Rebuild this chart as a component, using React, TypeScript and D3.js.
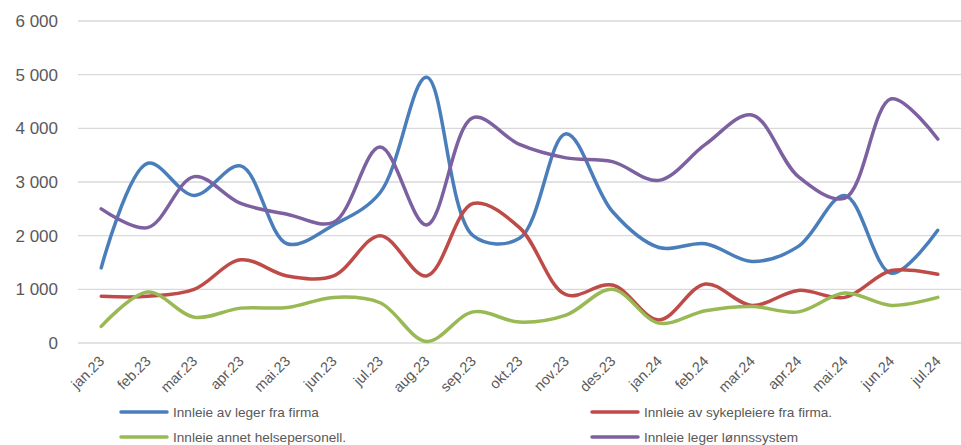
import React from 'react';
import * as d3 from 'd3';

const months = ['jan.23', 'feb.23', 'mar.23', 'apr.23', 'mai.23', 'jun.23', 'jul.23', 'aug.23', 'sep.23', 'okt.23',
    'nov.23', 'des.23', 'jan.24', 'feb.24', 'mar.24', 'apr.24', 'mai.24', 'jun.24', 'jul.24'];

const legerFirma = [1400, 3350, 2750, 3300, 1850, 2200, 2800, 4950, 2000, 1950, 3900, 2450, 1780, 1850, 1520, 1800, 2750, 1300, 2100];
const sykepleiereFirma = [870, 870, 1000, 1550, 1250, 1250, 2000, 1250, 2600, 2150, 900, 1080, 430, 1100, 700, 980, 850, 1350, 1280];
const annetHelse = [310, 950, 480, 650, 660, 850, 750, 30, 580, 390, 520, 1000, 370, 600, 680, 580, 930, 700, 850];
const legerLonn = [2500, 2150, 3100, 2600, 2400, 2250, 3650, 2200, 4200, 3700, 3450, 3380, 3030, 3700, 4250, 3100, 2700, 4550, 3800];

const yTicks = [0, 1000, 2000, 3000, 4000, 5000, 6000];

const series = [
    { name: 'Innleie av leger fra firma', values: legerFirma, color: '#4a7ebb' },
    { name: 'Innleie av sykepleiere fra firma.', values: sykepleiereFirma, color: '#be4b48' },
    { name: 'Innleie annet helsepersonell.', values: annetHelse, color: '#98b954' },
    { name: 'Innleie leger lønnssystem', values: legerLonn, color: '#7d60a0' },
];

// legend is two columns, filled row by row
const legendOrder = [0, 1, 2, 3];

export default function App() {
    const ref = React.useRef<SVGSVGElement>(null);

    React.useEffect(() => {
        const width = 961, height = 445;
        const marginLeft = 78, marginRight = 0, marginTop = 21, marginBottom = 102;
        const svg = d3.select(ref.current);
        svg.selectAll('*').remove();

        const x = d3.scaleBand().domain(months).range([marginLeft, width - marginRight]);
        const y = d3.scaleLinear().domain([0, 6000]).range([height - marginBottom, marginTop]);
        const cx = (m: string) => (x(m) as number) + x.bandwidth() / 2;

        const font = "'Liberation Sans', Arial, sans-serif";

        // grid
        svg.append('g')
            .selectAll('line')
            .data(yTicks)
            .join('line')
            .attr('x1', marginLeft)
            .attr('x2', width - marginRight)
            .attr('y1', d => y(d))
            .attr('y2', d => y(d))
            .attr('stroke', '#d9d9d9')
            .attr('stroke-width', 1.3);

        // y labels
        svg.append('g')
            .attr('font-family', font)
            .attr('font-size', 17)
            .attr('fill', '#595959')
            .attr('text-anchor', 'end')
            .selectAll('text')
            .data(yTicks)
            .join('text')
            .attr('x', 58)
            .attr('y', d => y(d))
            .attr('dy', '0.35em')
            .text(d => d3.format(',')(d).replace(/,/g, ' '));

        // x labels
        svg.append('g')
            .attr('font-family', font)
            .attr('font-size', 14.5)
            .attr('fill', '#595959')
            .attr('text-anchor', 'end')
            .selectAll('text')
            .data(months)
            .join('text')
            .attr('transform', d => `translate(${cx(d) + 4},${y(0) + 19}) rotate(-45)`)
            .text(d => d);

        const line = d3.line<number>()
            .x((_, i) => cx(months[i]))
            .y(d => y(d))
            .curve(d3.curveCatmullRom.alpha(0.5));

        svg.append('g')
            .selectAll('path')
            .data(series)
            .join('path')
            .attr('d', s => line(s.values))
            .attr('fill', 'none')
            .attr('stroke', s => s.color)
            .attr('stroke-width', 3.5)
            .attr('stroke-linejoin', 'round')
            .attr('stroke-linecap', 'round');

        // legend
        const colX = [121, 592];
        const rowY = [412, 437];
        const legend = svg.append('g')
            .attr('font-family', font)
            .attr('font-size', 13.6)
            .attr('fill', '#595959')
            .selectAll('g')
            .data(legendOrder)
            .join('g')
            .attr('transform', (d, i) => `translate(${colX[i % 2]},${rowY[Math.floor(i / 2)]})`);
        legend.append('line')
            .attr('x1', 0).attr('x2', 46)
            .attr('stroke', d => series[d].color)
            .attr('stroke-width', 3.5)
            .attr('stroke-linecap', 'round');
        legend.append('text')
            .attr('x', 52)
            .attr('dy', '0.35em')
            .text(d => series[d].name);
    }, []);

    return (
        <svg ref={ref} width={961} height={445}
            style={{ position: 'absolute', left: 0, top: 0, background: '#fff' }} />
    );
}
